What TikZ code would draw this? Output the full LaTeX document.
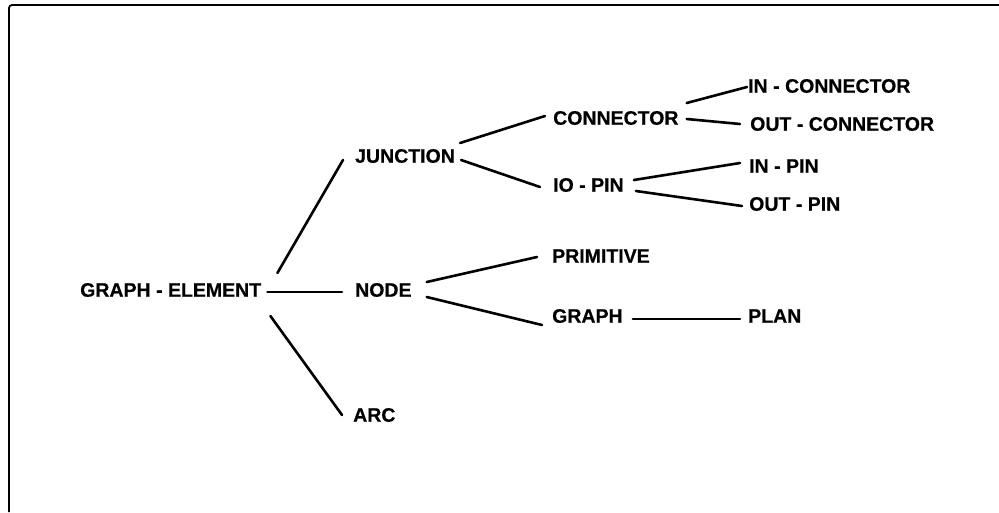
\documentclass[tikz,border=0pt]{standalone}
\usepackage{fontspec}
\setmainfont{Liberation Sans}
\newfontfamily\lblfont[FakeBold=0.5]{Liberation Sans Bold}
\newcommand\hy{\hspace{0.28em}-\hspace{0.28em}}
\usetikzlibrary{calc}
\begin{document}
\begin{tikzpicture}[x=1pt,y=-1pt,
  lbl/.style={anchor=west,inner sep=0pt,font=\lblfont\fontsize{19.5}{21}\selectfont},
  link/.style={line width=2.6pt,line cap=round},
  frame/.style={line width=1.8pt}]
\useasboundingbox (0,0) rectangle (999,512);
% open frame along the top and the left side
\draw[frame,rounded corners=3pt] (9,512) -- (9,5) -- (999,5);

% class names
\node[lbl] (ge)     at (80,290)  {GRAPH\hy ELEMENT};
\node[lbl] (jn)     at (355,156) {JUNCTION};
\node[lbl] (nd)     at (355,290) {NODE};
\node[lbl] (arc)    at (353,415) {ARC};
\node[lbl] (con)    at (553,118) {CONNECTOR};
\node[lbl] (io)     at (553,185) {IO\hy PIN};
\node[lbl] (prim)   at (552,256) {PRIMITIVE};
\node[lbl] (gr)     at (552,316) {GRAPH};
\node[lbl] (plan)   at (748,316) {PLAN};
\node[lbl] (incon)  at (748,86)  {IN\hy CONNECTOR};
\node[lbl] (outcon) at (750,124) {OUT\hy CONNECTOR};
\node[lbl] (inpin)  at (749,166) {IN\hy PIN};
\node[lbl] (outpin) at (749,204) {OUT\hy PIN};

% specialisation links
\draw[link] ($(ge.east)+(16,-17)$) -- ($(jn.west)+(-12,4)$);
\draw[link] ($(ge.east)+(6,2)$)    -- ($(nd.west)+(-13,2)$);
\draw[link] ($(ge.east)+(9,26)$)   -- ($(arc.west)+(-11,0)$);
\draw[link] ($(jn.east)+(5,-13)$)  -- ($(con.west)+(-8,-2)$);
\draw[link] ($(jn.east)+(6,4)$)    -- ($(io.west)+(-13,2)$);
\draw[link] ($(con.east)+(8,-15)$) -- ($(incon.west)+(-1,1)$);
\draw[link] ($(con.east)+(8,1)$)   -- ($(outcon.west)+(-10,0)$);
\draw[link] ($(io.east)+(10,-5)$)  -- ($(inpin.west)+(-9,-3)$);
\draw[link] ($(io.east)+(12,6)$)   -- ($(outpin.west)+(-7,2)$);
\draw[link] ($(nd.east)+(15,-8)$)  -- ($(prim.west)+(-15,1)$);
\draw[link] ($(nd.east)+(15,7)$)   -- ($(gr.west)+(-10,9)$);
\draw[link] ($(gr.east)+(10,3)$)   -- ($(plan.west)+(-8,3)$);
\end{tikzpicture}
\end{document}
